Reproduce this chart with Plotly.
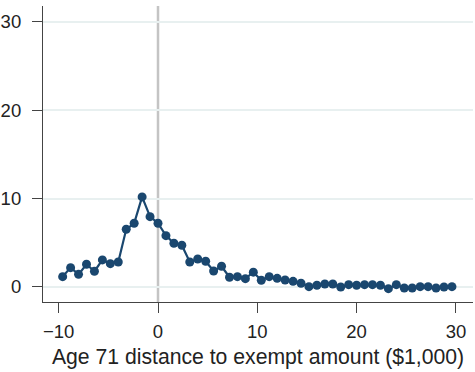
import plotly.graph_objects as go

# Bin centres ($1,000), bins of 0.8
x_vals = [-9.6, -8.8, -8.0, -7.2, -6.4, -5.6, -4.8, -4.0, -3.2, -2.4,
          -1.6, -0.8, 0.0, 0.8, 1.6, 2.4, 3.2, 4.0, 4.8, 5.6,
          6.4, 7.2, 8.0, 8.8, 9.6, 10.4, 11.2, 12.0, 12.8, 13.6,
          14.4, 15.2, 16.0, 16.8, 17.6, 18.4, 19.2, 20.0, 20.8, 21.6,
          22.4, 23.2, 24.0, 24.8, 25.6, 26.4, 27.2, 28.0, 28.8, 29.6]
y_vals = [1.17, 2.19, 1.43, 2.57, 1.78, 3.06, 2.64, 2.83, 6.53, 7.21,
          10.19, 7.96, 7.21, 5.81, 4.95, 4.72, 2.83, 3.17, 2.91, 1.81,
          2.34, 1.10, 1.17, 0.94, 1.68, 0.76, 1.17, 0.98, 0.79, 0.64,
          0.42, 0.04, 0.19, 0.34, 0.34, 0.00, 0.26, 0.19, 0.26, 0.26,
          0.19, -0.19, 0.26, -0.11, -0.11, 0.04, 0.04, -0.11, 0.00, 0.04]

x_ticks = [-10, 0, 10, 20, 30]
y_ticks = [0, 10, 20, 30]
x_title = "Age 71 distance to exempt amount ($1,000)"
cutoff = 0

navy = "#1a476f"
font_fam = "Liberation Sans, Arial, Helvetica, sans-serif"

fig = go.Figure()
fig.add_trace(go.Scatter(
    x=x_vals, y=y_vals, mode="lines+markers",
    line=dict(color=navy, width=2.2),
    marker=dict(color=navy, size=9),
    showlegend=False, cliponaxis=False,
))

fig.add_shape(type="line", xref="x", yref="paper", x0=cutoff, x1=cutoff,
              y0=0, y1=1, line=dict(color="#c4c4c4", width=2.5), layer="below")

fig.update_layout(
    width=475, height=372,
    margin=dict(l=43, r=2, t=6, b=70),
    paper_bgcolor="white", plot_bgcolor="white",
    font=dict(family=font_fam, size=18, color="#222222"),
)
fig.update_xaxes(
    range=[-11.58, 31.72], tickvals=x_ticks, ticks="outside", ticklen=10,
    tickwidth=1.2, tickcolor="#444444", showline=True, linecolor="#444444",
    linewidth=1.2, showgrid=False, zeroline=False,
    tickfont=dict(size=18.5), ticklabelstandoff=3,
    title=dict(text=x_title, font=dict(size=21.2), standoff=7),
)
fig.update_yaxes(
    range=[-1.7, 31.8], tickvals=y_ticks, ticks="outside", ticklen=10,
    tickwidth=1.2, tickcolor="#444444", showline=True, linecolor="#444444",
    linewidth=1.2, showgrid=True, gridcolor="#e8f0f0", gridwidth=1.5,
    zeroline=False, tickfont=dict(size=18.5), ticklabelstandoff=7,
)

fig.write_html("out.html")
